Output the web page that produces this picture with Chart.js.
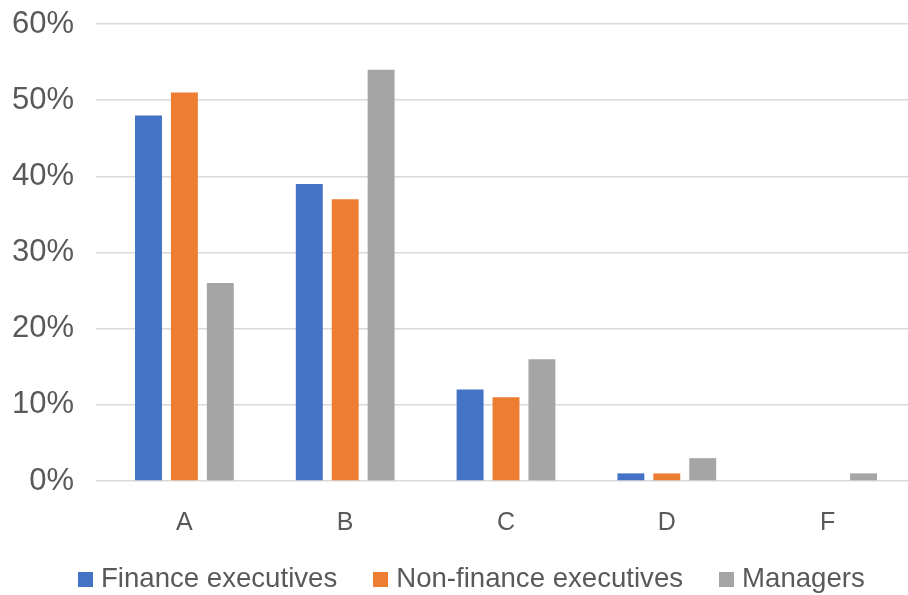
<!DOCTYPE html>
<html>
<head>
<meta charset="utf-8">
<script src="https://cdn.jsdelivr.net/npm/chart.js@4/dist/chart.umd.min.js"></script>
<style>
  html, body { margin: 0; padding: 0; background: #fff; }
  #wrap { position: relative; width: 908px; height: 595px; }
  #grafico { position: absolute; left: 0; top: 0; }
  /* legenda em HTML, abaixo do eixo */
  #legenda {
    position: absolute; left: 78px; top: 564px;
    display: flex; align-items: baseline;
    font-family: Arial, "Liberation Sans", sans-serif;
    font-size: 27.6px; line-height: 28px; color: #595959;
    white-space: nowrap;
  }
  #legenda .item { display: flex; align-items: baseline; margin-right: 36px; }
  #legenda .caixa { display: inline-block; width: 15px; height: 15px; margin-right: 8px; }
</style>
</head>
<body>
<div id="wrap">
  <canvas id="grafico" width="908" height="595"></canvas>
  <div id="legenda"></div>
</div>
<script>
// categorias e séries (valores em %)
const categorias = ['A', 'B', 'C', 'D', 'F'];
const financeExec = [48, 39, 12, 1, 0];
const nonFinanceExec = [51, 37, 11, 1, 0];
const managers = [26, 54, 16, 3, 1];

const cores = {
    blue: '#4472C4',
    orange: '#ED7D31',
    gray: '#A5A5A5'
};

const corTexto = '#595959';
const fonte = 'Arial, "Liberation Sans", sans-serif';

const ctx = document.getElementById('grafico').getContext('2d');

const grafico = new Chart(ctx, {
    type: 'bar',
    data: {
        labels: categorias,
        datasets: [
            { label: 'Finance executives', data: financeExec, backgroundColor: cores.blue },
            { label: 'Non-finance executives', data: nonFinanceExec, backgroundColor: cores.orange },
            { label: 'Managers', data: managers, backgroundColor: cores.gray }
        ]
    },
    options: {
        responsive: false,
        animation: false,
        datasets: {
            bar: { categoryPercentage: 0.67, barPercentage: 0.75 }
        },
        layout: { padding: { top: 0, right: 0, bottom: 38, left: 0 } },
        plugins: {
            tooltip: { enabled: false },
            legend: { display: false }
        },
        scales: {
            x: {
                grid: { display: false },
                border: { display: false },
                ticks: {
                    color: corTexto,
                    font: { family: fonte, size: 25 },
                    padding: 19
                }
            },
            y: {
                min: 0,
                max: 60,
                afterFit: (scale) => {
                    // largura fixa do eixo e margem superior de 24px
                    scale.width = 104;
                    scale.paddingTop = 24;
                    scale.paddingBottom = 0;
                },
                grid: { color: '#d9d9d9', lineWidth: 1.5 },
                border: { display: false },
                ticks: {
                    stepSize: 10,
                    color: corTexto,
                    font: { family: fonte, size: 31, lineHeight: 1 },
                    padding: 22,
                    callback: (v) => v + '%'
                }
            }
        }
    }
});

// Monta a legenda a partir dos datasets
const legenda = document.getElementById('legenda');
grafico.data.datasets.forEach(ds => {
    const item = document.createElement('span');
    item.className = 'item';
    item.innerHTML = `<span class="caixa" style="background:${ds.backgroundColor}"></span>${ds.label}`;
    legenda.appendChild(item);
});
</script>
</body>
</html>
